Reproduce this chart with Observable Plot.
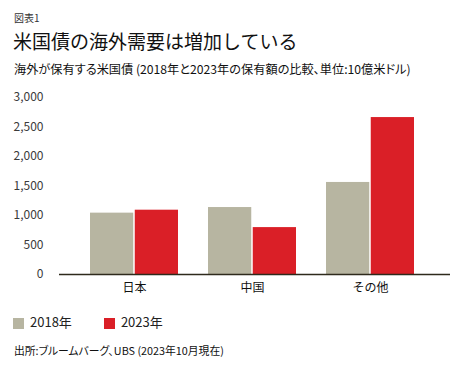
<!DOCTYPE html>
<html><head><meta charset="utf-8">
<script src="https://cdn.jsdelivr.net/npm/d3@7"></script>
<script src="https://cdn.jsdelivr.net/npm/@observablehq/plot@0.6"></script>
<style>
body{margin:0;background:#fff;font-family:"Noto Sans CJK JP","Noto Sans",sans-serif;color:#111;width:464px;height:366px;position:relative;overflow:hidden}
.abs{position:absolute;white-space:nowrap;line-height:1}
.palt{font-feature-settings:"palt"}
#chart{position:absolute;left:0;top:85px}
.sw{display:inline-block;width:11px;height:11px;vertical-align:middle;margin-right:6px}
</style></head><body>
<div class="abs" style="left:14px;top:13px;font-size:10px;color:#333">図表1</div>
<div class="abs" style="left:13px;top:31px;font-size:19px;color:#111">米国債の海外需要は増加している</div>
<div class="abs palt" style="left:14px;top:63px;font-size:12.2px;color:#111">海外が保有する米国債 (2018年と2023年の保有額の比較、単位:10億米ドル)</div>
<div id="chart"></div>
<div class="abs" id="legend" style="left:13px;top:315px;font-size:13px;color:#222"></div>
<div class="abs palt" style="left:14px;top:345px;font-size:10.8px;color:#111">出所:ブルームバーグ、UBS (2023年10月現在)</div>
<script>
const categories = ["日本", "中国", "その他"];
const years = ["2018年", "2023年"];
const values2018 = [1040, 1135, 1560];
const values2023 = [1090, 795, 2660];
const yTicks = [0, 500, 1000, 1500, 2000, 2500, 3000];
const colors = ["#b7b5a1", "#da1f27"];

const d2018 = categories.map((c, i) => ({country: c, value: values2018[i]}));
const d2023 = categories.map((c, i) => ({country: c, value: values2023[i]}));

const bw = 88.5;
const chart = Plot.plot({
  width: 464,
  height: 215,
  marginLeft: 59,
  marginRight: 14,
  marginTop: 12,
  marginBottom: 26,
  style: {fontFamily: '"Noto Sans CJK JP","Noto Sans",sans-serif', fontSize: "12px", color: "#333", background: "#fff"},
  x: {domain: categories, paddingInner: 0.253, paddingOuter: 0.278, align: 0.47, label: null},
  y: {domain: [0, 3000], label: null},
  marks: [
    Plot.axisY({ticks: yTicks, tickFormat: d3.format(","), tickSize: 0, tickPadding: 16, fontSize: 12, fill: "#3a3a3a"}),
    Plot.axisX({tickSize: 0, tickPadding: 9, fontSize: 12, fill: "#111"}),
    Plot.barY(d2018, {x: "country", y: "value", fill: colors[0], insetRight: bw / 2 + 0.5}),
    Plot.barY(d2023, {x: "country", y: "value", fill: colors[1], insetLeft: bw / 2 + 0.5}),
    Plot.ruleY([0], {stroke: "#2e2a1c", strokeWidth: 1.4})
  ]
});
document.getElementById("chart").appendChild(chart);

const lg = document.getElementById("legend");
years.forEach((y, i) => {
  const s = document.createElement("span");
  s.style.marginRight = i === 0 ? "32px" : "0";
  s.innerHTML = `<span class="sw" style="background:${colors[i]}"></span>${y}`;
  lg.appendChild(s);
});
</script>
</body></html>
